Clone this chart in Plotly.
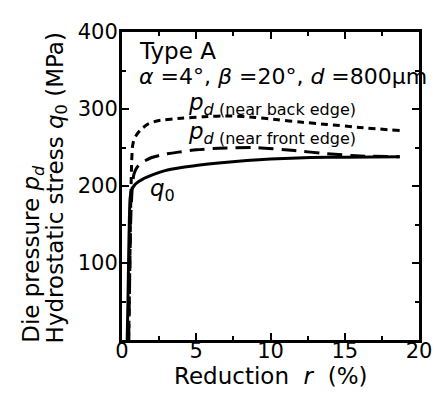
import plotly.graph_objects as go

# q0 (hydrostatic stress), solid
q0_x = [0.35, 0.4, 0.45, 0.5, 0.55, 0.65, 0.8, 1.0, 1.4, 2.0, 2.9, 4.0, 5.1, 6.5, 8.4, 10.0, 12.7, 15.0, 18.7]
q0_y = [0, 50, 110, 160, 185, 195, 200, 204, 209, 214, 220, 224, 227, 230, 233, 235, 237, 237.5, 238]

# pd near front edge, long dash
front_x = [0.45, 0.5, 0.55, 0.6, 0.7, 0.8, 1.0, 1.4, 2.0, 2.8, 3.8, 5.0, 6.5, 9.0, 11.6, 13.8, 16.0, 18.7]
front_y = [0, 60, 120, 165, 200, 215, 224, 231, 237, 241, 244, 247, 249, 250, 246, 242, 239, 238]

# pd near back edge, short dash
back_x = [0.45, 0.5, 0.55, 0.6, 0.65, 0.7, 0.8, 1.0, 1.3, 1.8, 2.5, 4.0, 5.5, 7.3, 9.0, 10.5, 12.0, 13.8, 16.0, 18.7]
back_y = [0, 60, 130, 190, 230, 250, 260, 267, 274, 281, 285, 288, 290, 291, 289, 286, 283, 280, 276, 272]

x_ticks = [0, 5, 10, 15, 20]
y_ticks = [100, 200, 300, 400]

FONT = "DejaVu Sans, Liberation Sans, Arial, sans-serif"

fig = go.Figure()
fig.add_trace(go.Scatter(x=q0_x, y=q0_y, mode="lines", line=dict(color="black", width=3, shape="spline", smoothing=0.6)))
fig.add_trace(go.Scatter(x=front_x, y=front_y, mode="lines", line=dict(color="black", width=3, dash="15px,8px", shape="spline", smoothing=0.6)))
fig.add_trace(go.Scatter(x=back_x, y=back_y, mode="lines", line=dict(color="black", width=3, dash="7px,5px", shape="spline", smoothing=0.6)))

axis_common = dict(
    showline=True, linecolor="black", linewidth=3, mirror="ticks",
    ticks="inside", ticklen=7, tickwidth=1.5, tickcolor="black",
    showgrid=False, zeroline=False,
    tickfont=dict(family=FONT, size=21, color="black"),
)

fig.update_xaxes(range=[0, 20], tickvals=x_ticks, ticktext=[str(v) for v in x_ticks],
                 minor=dict(dtick=2.5, ticks="inside", ticklen=4, tickwidth=1.5, tickcolor="black"),
                 ticklabelstandoff=-10, **axis_common)
fig.update_yaxes(range=[0, 400], tickvals=y_ticks, ticktext=[str(v) for v in y_ticks],
                 minor=dict(dtick=50, ticks="inside", ticklen=4, tickwidth=1.5, tickcolor="black"),
                 ticklabelstandoff=-3, **axis_common)

ann_font = dict(family=FONT, size=23, color="black")
param_font = dict(family=FONT, size=22, color="black")
title_font = dict(family=FONT, size=23, color="black")
annotations = [
    dict(x=0.98, y=375, text="Type A", xanchor="left", yanchor="middle", showarrow=False, font=ann_font),
    dict(x=0.98, y=342, text="<i>α</i> =4°, <i>β</i> =20°, <i>d</i> =800μm", xanchor="left", yanchor="middle", showarrow=False, font=param_font),
    dict(x=4.3, y=306, text="<i>p</i><sub><i>d</i> <span style='font-size:16px'>(near back edge)</span></sub>", xanchor="left", yanchor="middle", showarrow=False, font=ann_font),
    dict(x=4.3, y=269, text="<i>p</i><sub><i>d</i> <span style='font-size:16px'>(near front edge)</span></sub>", xanchor="left", yanchor="middle", showarrow=False, font=ann_font),
    dict(x=1.75, y=195, text="<i>q</i><sub>0</sub>", xanchor="left", yanchor="middle", showarrow=False, font=ann_font),
    dict(xref="paper", yref="paper", x=0.5, y=-0.118, text="Reduction  <i>r</i>  (%)", xanchor="center", yanchor="middle", showarrow=False, font=title_font),
    dict(xref="paper", yref="paper", x=-0.30, y=-0.016, text="Die pressure <i>p</i><sub><i>d</i></sub>", textangle=-90, xanchor="center", yanchor="bottom", showarrow=False, font=title_font),
    dict(xref="paper", yref="paper", x=-0.219, y=-0.016, text="Hydrostatic stress <i>q</i><sub>0</sub> (MPa)", textangle=-90, xanchor="center", yanchor="bottom", showarrow=False, font=title_font),
]

# page body has an 8px margin, so the figure is sized to fit inside the window
fig.update_layout(
    width=436, height=388,
    margin=dict(l=114, r=16, t=20, b=56),
    paper_bgcolor="white", plot_bgcolor="white",
    showlegend=False,
    annotations=annotations,
)

fig.write_html("out.html")
